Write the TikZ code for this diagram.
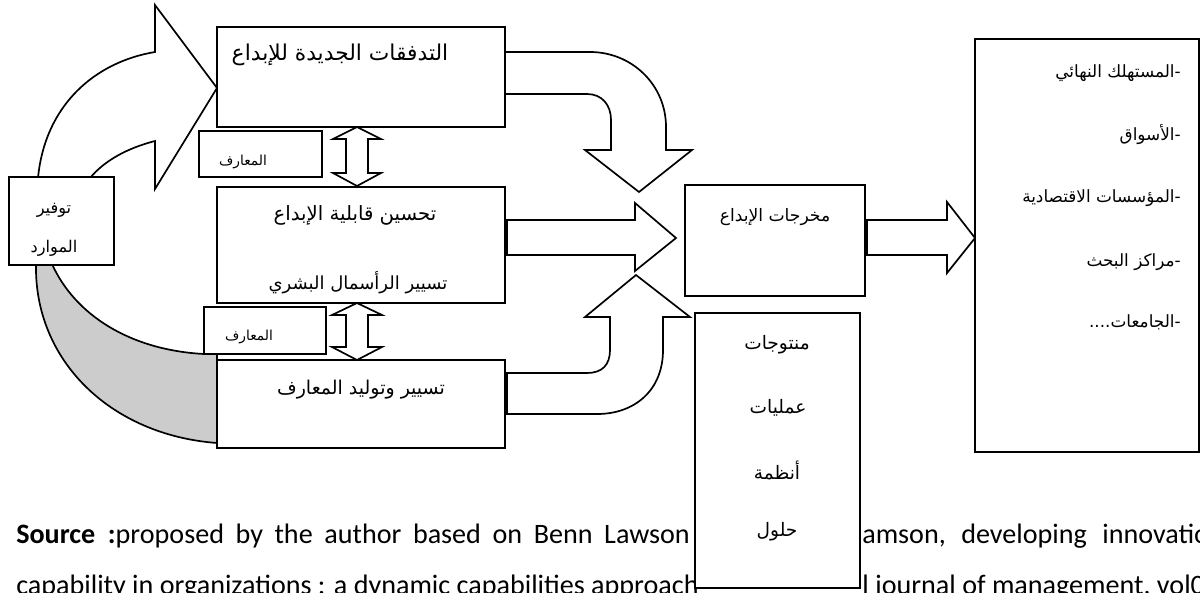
\documentclass[tikz,border=0pt]{standalone}
\usepackage{fontspec}
\setmainfont{Carlito}
\newfontfamily\arabicfont[Script=Arabic]{DejaVu Sans}
\TeXXeTstate=1
\newcommand{\arfs}[1]{\arabicfont\fontsize{#1}{#1}\selectfont}
\tikzset{
  box/.style={draw, line width=1.4pt, fill=white, inner sep=0pt, outer sep=0pt},
  blockarrow/.style={draw, line width=1.2pt, fill=white, line join=miter},
  grayband/.style={draw, line width=1.2pt, fill=black!20},
  artext/.style={inner sep=0pt},
  arsmall/.style={inner sep=0pt, font=\arfs{9.8}},
  armid/.style={inner sep=0pt, font=\arfs{11.5}},
  arlistP/.style={inner sep=0pt, font=\arfs{13.2}},
  arlistT/.style={inner sep=0pt, font=\arfs{12}},
  captext/.style={inner sep=0pt, font=\fontsize{20}{24}\selectfont},
}
\begin{document}
\begin{tikzpicture}[x=0.025cm,y=-0.025cm]
\useasboundingbox[fill=white] (0,0) rectangle (1200,592);

% caption
\node[captext, anchor=base west] (cap1) at (16,543) {\makebox[479pt][s]{\textbf{Source}\hspace{9pt}\textbf{:}proposed by the author based on Benn Lawson}};
\node[captext, anchor=base west] (cap1b) at (862,543) {\spaceskip=11pt amson, developing innovation};
\node[captext, anchor=base west] (cap2) at (16,594) {capability in organizations : a dynamic capabilities approach};
\node[captext, anchor=base west] (cap2b) at (862,594) {l journal of management, vol0};

% left curved arrow (resources -> new flows)
\draw[blockarrow] (38,178) .. controls (45,105) and (95,62) .. (155,52) -- (155,5) -- (217,88) -- (155,189) -- (155,141) .. controls (128,148) and (105,160) .. (90,178) -- cycle;

% gray band (resources -> knowledge management)
\draw[grayband] (52,264) .. controls (75,315) and (130,350) .. (204,354) -- (217,354) -- (217,443) .. controls (110,435) and (34,360) .. (36,264) -- cycle;

% top curved arrow (new flows -> outputs)
\draw[blockarrow] (505,52) -- (590,52) .. controls (632,52) and (666,85) .. (666,127) -- (666,150) -- (692,150) -- (639,192) -- (585,150) -- (611,150) -- (611,120) .. controls (611,105) and (602,94) .. (587,94) -- (505,94) -- cycle;

% straight arrow (capability -> outputs)
\draw[blockarrow] (507,220) -- (635,220) -- (635,203) -- (676,238) -- (635,271) -- (635,255) -- (507,255) -- cycle;

% lower curved arrow (knowledge -> outputs)
\draw[blockarrow] (507,373) -- (587,373) .. controls (602,373) and (610,365) .. (610,350) -- (610,317) -- (585,317) -- (636,275) -- (690,317) -- (663,317) -- (663,350) .. controls (663,390) and (635,414) .. (597,414) -- (507,414) -- cycle;

% outputs -> stakeholders
\draw[blockarrow] (867,220) -- (947,220) -- (947,202) -- (975,238) -- (947,273) -- (947,255) -- (867,255) -- cycle;

% boxes
\node[box, minimum width=7.2cm, minimum height=2.5cm] (A) at (361,77) {};
\node[box, minimum width=7.2cm, minimum height=2.9cm] (B) at (361,245) {};
\node[box, minimum width=7.2cm, minimum height=2.2cm] (C) at (361,404) {};
\node[box, minimum width=3.075cm, minimum height=1.15cm] (M1) at (260.5,154) {};
\node[box, minimum width=3.05cm, minimum height=1.175cm] (M2) at (265,330.5) {};
\node[box, minimum width=2.625cm, minimum height=2.2cm] (R) at (61.5,221) {};
\node[box, minimum width=4.5cm, minimum height=2.775cm] (O) at (775,240.5) {};
\node[box, minimum width=4.125cm, minimum height=6.875cm] (P) at (777.5,450.5) {};
\node[box, minimum width=5.6cm, minimum height=10.325cm] (T) at (1087,245.5) {};

% double arrows
\draw[blockarrow] (357,127) -- (381,139) -- (368,139) -- (368,173) -- (381,173) -- (357,186) -- (333,173) -- (346,173) -- (346,139) -- (333,139) -- cycle;
\draw[blockarrow] (357,303) -- (382,315) -- (368,315) -- (368,347) -- (382,347) -- (357,360) -- (332,347) -- (346,347) -- (346,315) -- (332,315) -- cycle;

% texts
\node[artext, font=\arfs{15.5}] (tA) at (340,55) {\beginR التدفقات الجديدة للإبداع\endR};
\node[artext, font=\arfs{14}] (tB1) at (355,215) {\beginR تحسين قابلية الإبداع\endR};
\node[artext, font=\arfs{12.8}] (tB2) at (358,283) {\beginR تسيير الرأسمال البشري\endR};
\node[artext, font=\arfs{13.5}] (tC) at (361,390) {\beginR تسيير وتوليد المعارف\endR};
\node[arsmall] (tM1) at (243,162) {\beginR المعارف\endR};
\node[arsmall] (tM2) at (249,337) {\beginR المعارف\endR};
\node[armid] (tR1) at (54,210) {\beginR توفير\endR};
\node[armid] (tR2) at (54,248) {\beginR الموارد\endR};
\node[artext, font=\arfs{12.2}] (tO) at (775,217) {\beginR مخرجات الإبداع\endR};
\node[arlistP] (tP1) at (777,345) {\beginR منتوجات\endR};
\node[arlistP] (tP2) at (778,408) {\beginR عمليات\endR};
\node[arlistP] (tP3) at (777,470) {\beginR أنظمة\endR};
\node[arlistP] (tP4) at (777,532) {\beginR حلول\endR};
\node[arlistT, anchor=east] (tT1) at (1181,73) {\beginR -المستهلك النهائي\endR};
\node[arlistT, anchor=east] (tT2) at (1181,135) {\beginR -الأسواق\endR};
\node[arlistT, anchor=east] (tT3) at (1181,198) {\beginR -المؤسسات الاقتصادية\endR};
\node[arlistT, anchor=east] (tT4) at (1181,262) {\beginR -مراكز البحث\endR};
\node[arlistT, anchor=east] (tT5) at (1181,322) {\beginR -الجامعات....\endR};
\end{tikzpicture}
\end{document}
